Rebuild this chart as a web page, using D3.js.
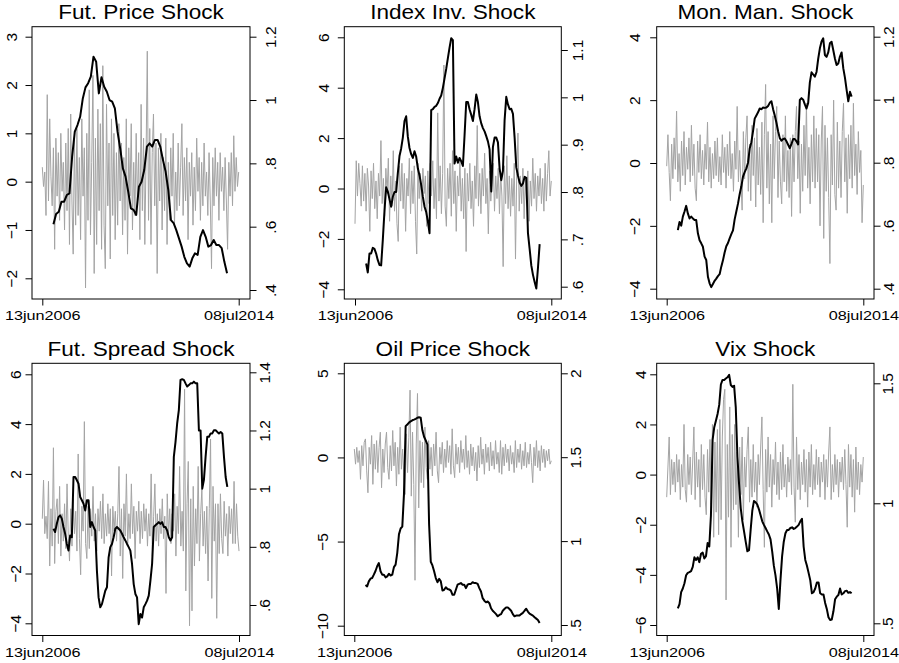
<!DOCTYPE html>
<html><head><meta charset="utf-8">
<script src="https://cdn.jsdelivr.net/npm/d3@7"></script>
<style>body{margin:0;background:#fff} svg{display:block}</style>
</head><body><svg id="c" width="899" height="663"></svg>
<script>
// ---------------- DATA ----------------
const titles = ["Fut. Price Shock","Index Inv. Shock","Mon. Man. Shock","Fut. Spread Shock","Oil Price Shock","Vix Shock"];
const xTickDates = ["2006-06-13","2014-07-08"];
const xTickLabels = ["13jun2006","08jul2014"];
const grayStart = "2006-06-13", grayEnd = "2014-07-08";
const blackStart = "2006-11-27", blackEnd = "2014-01-14";
const leftTicks = [[-2,-1,0,1,2,3],[-4,-2,0,2,4,6],[-4,-2,0,2,4],[-4,-2,0,2,4,6],[-10,-5,0,5],[-6,-4,-2,0,2,4]];
const rightTicks = [[0.4,0.6,0.8,1,1.2],[0.6,0.7,0.8,0.9,1,1.1],[0.4,0.6,0.8,1,1.2],[0.6,0.8,1,1.2,1.4],[0.5,1,1.5,2],[0.5,1,1.5]];

const gray1 = [0.3,-0.1,0.2,-0.7,1.8,-0.4,1.3,0.1,-0.5,0.7,-1.4,0.9,-0.3,0.6,-0.8,1.0,-0.2,0.4,-1.0,0.8,
-0.6,1.1,-1.3,1.4,-0.4,-1.5,0.9,-0.9,1.1,-0.7,0.5,-1.2,1.3,-0.3,0.7,-2.2,1.0,-0.8,1.9,-1.1,
0.4,2.2,-1.9,0.9,-1.3,1.5,-0.6,1.2,-1.4,2.4,-0.9,-1.8,1.6,-0.5,0.8,-1.6,1.3,-0.7,1.0,-1.2,
0.6,-0.9,1.2,-0.4,0.8,-1.1,0.5,-0.8,1.3,-1.5,0.7,-0.3,1.2,-1.0,0.4,-0.7,1.0,-0.5,0.6,-1.2,
1.6,-0.6,0.9,-1.3,0.5,2.7,-0.8,1.1,-1.3,0.6,1.4,-0.5,0.8,-1.9,0.7,-0.4,1.0,-1.0,0.5,-0.6,
0.9,-1.3,0.4,-0.8,0.7,-0.3,1.0,-0.9,0.2,-0.6,0.8,-0.5,0.3,1.2,-0.7,0.5,-0.4,0.7,-1.2,0.4,
-0.3,0.6,-0.9,0.3,-0.6,0.9,-0.2,0.5,-0.8,0.4,-0.5,0.8,-0.3,0.2,-0.7,0.6,-0.4,-1.8,0.5,-0.5,
0.7,-0.3,0.4,-0.8,0.6,-0.2,0.3,-0.6,0.5,-0.4,-1.4,0.4,-0.3,0.6,-0.5,0.95,-0.2,0.5,-0.1,0.2];
const black1 = [0.608,0.640,0.647,0.679,0.679,0.700,0.705,0.821,0.900,0.921,0.947,1.005,1.040,1.053,1.074,1.137,1.121,1.021,1.072,1.042,1.026,1.000,0.995,0.974,0.900,0.847,0.784,0.758,0.711,0.658,0.653,0.637,0.726,0.742,0.779,0.853,0.863,0.853,0.874,0.874,0.853,0.811,0.774,0.716,0.621,0.611,0.589,0.563,0.537,0.505,0.484,0.474,0.500,0.516,0.511,0.568,0.589,0.568,0.537,0.542,0.558,0.542,0.542,0.532,0.489,0.453];

const gray2 = [-1.4,1.1,-0.3,1.0,0.2,-0.7,0.9,-0.5,0.6,-0.9,0.8,0.1,-1.7,0.7,-0.4,1.0,-0.8,0.3,-1.2,0.6,
-0.3,1.9,-0.6,0.4,-1.1,0.8,-0.2,1.2,-1.3,0.5,-0.7,1.5,-0.9,0.3,-1.4,-2.1,0.9,-0.5,1.0,-0.8,
0.6,-1.7,0.4,-0.3,1.2,-1.0,0.7,-0.6,0.9,-1.3,-2.6,1.0,-0.4,0.6,-0.9,0.8,-0.2,0.5,-1.5,0.7,
-0.6,1.0,-0.3,1.1,-0.8,0.4,-1.2,3.0,-0.5,0.9,-1.0,0.6,4.9,-0.7,-1.5,0.8,-0.4,1.0,-1.1,1.5,
-0.6,0.7,-1.7,0.5,-0.3,1.1,-0.9,0.4,-1.2,0.8,-2.5,0.6,-0.5,1.0,-0.8,0.3,-1.5,0.9,-0.4,2.5,
-0.7,0.6,-1.0,0.8,-0.3,1.4,-0.6,0.4,-1.8,0.7,-0.5,0.3,1.0,-0.9,0.5,-0.4,0.8,-1.0,0.6,-0.3,
-3.1,0.9,-0.6,1.3,-0.8,0.5,-1.1,0.4,-0.7,1.0,-2.8,0.6,2.2,-0.9,0.5,-0.6,0.8,-1.2,0.4,-0.5,
0.7,-1.3,0.3,-0.7,1.2,-0.4,0.6,-0.9,0.5,-0.3,0.8,-0.6,0.4,-0.9,1.0,-0.5,0.6,1.5,-0.3,0.3];
const black2 = [0.649,0.63,0.67,0.67,0.682,0.68,0.67,0.656,0.646,0.645,0.699,0.76,0.81,0.801,0.785,0.769,0.79,0.80,0.80,0.84,0.876,0.892,0.915,0.95,0.96,0.917,0.893,0.88,0.872,0.886,0.875,0.85,0.835,0.815,0.79,0.769,0.758,0.738,0.713,0.973,0.975,0.98,0.982,0.988,0.997,1.004,1.02,1.04,1.06,1.083,1.105,1.125,1.121,0.86,0.875,0.862,0.872,0.865,0.855,0.92,0.99,0.99,0.975,0.963,0.95,0.975,1.006,0.99,0.96,0.945,0.935,0.928,0.918,0.907,0.89,0.801,0.895,0.915,0.915,0.905,0.85,0.825,0.845,0.952,1.001,0.985,0.975,0.976,0.965,0.915,0.852,0.835,0.82,0.813,0.818,0.832,0.83,0.713,0.68,0.645,0.625,0.61,0.596,0.64,0.69];

const gray3 = [-0.1,0.9,-0.3,-1.2,0.6,-0.5,0.8,-0.2,1.65,-0.6,0.3,-0.9,0.7,-0.4,1.0,-0.7,0.5,-0.2,0.8,-0.6,
1.2,-0.4,0.6,-0.8,-1.2,0.7,-0.3,0.9,-0.5,0.4,-0.7,0.6,-0.2,1.3,-0.6,0.5,-0.8,0.3,-0.5,0.7,
-0.4,0.8,-0.6,0.2,-0.7,0.9,-0.3,0.5,-0.8,0.6,-0.4,1.0,-0.5,0.3,-0.9,0.7,-0.2,1.8,-0.6,0.4,
-0.6,-1.5,1.0,-0.5,0.8,1.5,-0.9,0.6,-1.2,1.2,-0.4,0.8,-1.4,1.1,-0.7,0.5,-1.0,1.3,-1.9,0.9,
2.5,-0.8,1.0,-1.3,0.6,-1.9,1.5,-0.5,1.0,1.8,-1.1,0.7,-0.6,-1.3,0.9,-0.6,1.5,-0.9,0.4,-1.1,
0.8,-1.7,0.9,-0.6,1.0,1.8,-0.5,0.7,-1.6,0.6,-0.9,1.2,-0.4,1.9,-0.8,0.5,-1.3,0.9,-0.6,1.5,
-0.8,1.1,-0.6,0.9,-2.0,0.7,1.8,-2.4,1.2,-0.9,0.8,-1.1,-3.2,0.9,-0.7,2.0,-1.0,-1.5,1.3,-0.8,
0.7,-1.1,1.0,1.9,-0.6,0.8,-1.6,0.9,-0.5,1.2,-0.8,1.9,-0.4,0.6,-1.0,1.0,-0.3,0.4,-1.9,-0.7];
const black3 = [0.586,0.612,0.60,0.629,0.645,0.663,0.639,0.623,0.629,0.623,0.618,0.618,0.576,0.554,0.544,0.533,0.502,0.491,0.438,0.417,0.405,0.415,0.425,0.432,0.44,0.446,0.47,0.49,0.515,0.535,0.545,0.56,0.573,0.585,0.62,0.645,0.67,0.70,0.725,0.756,0.77,0.782,0.80,0.845,0.865,0.90,0.94,0.95,0.96,0.972,0.97,0.975,0.974,0.975,0.98,0.99,0.995,0.97,0.95,0.927,0.90,0.878,0.87,0.875,0.877,0.868,0.857,0.846,0.86,0.875,0.875,0.868,0.858,0.999,1.005,1.0,0.985,0.972,0.99,1.055,1.087,1.08,1.073,1.088,1.13,1.163,1.185,1.195,1.142,1.136,1.15,1.179,1.184,1.158,1.131,1.11,1.115,1.137,1.15,1.10,1.07,1.031,0.995,1.025,1.01];

const gray4 = [0.2,1.75,-0.4,0.3,-0.6,1.7,-1.7,0.6,-0.9,3.05,-1.6,0.5,1.0,-0.8,1.5,-1.3,0.4,-0.7,0.8,-1.0,
1.6,-0.5,-1.5,0.6,-0.9,1.0,-0.4,0.5,-1.1,2.8,-0.6,-2.05,0.7,-0.3,4.1,-0.8,-1.4,0.7,-1.0,0.6,
-0.5,1.5,-0.7,0.4,-1.1,0.6,-0.3,0.9,-0.6,1.2,-0.8,0.4,-0.5,0.8,-0.4,0.6,-2.1,0.7,-0.3,0.5,
-0.7,0.4,2.3,-1.3,0.6,-2.2,0.8,-0.5,2.0,-0.9,0.4,-0.6,1.6,-0.4,0.7,-1.4,0.5,-0.3,0.9,-0.8,
0.5,-0.6,0.8,-0.3,0.6,-0.9,0.4,-0.5,2.0,-1.3,0.3,1.6,-0.7,0.4,-0.9,0.6,-0.4,1.0,-0.6,0.3,
-2.8,1.2,-0.5,0.6,-0.8,0.4,-0.3,1.2,-1.3,0.7,-0.4,2.3,-0.9,0.5,-1.1,5.4,-2.7,0.8,2.5,-4.1,
1.0,-3.5,1.5,-1.7,0.6,-0.8,2.3,-1.5,0.4,1.4,-0.9,0.5,-1.2,0.7,-2.3,0.6,3.4,-3.0,1.5,-0.7,
0.8,-3.8,0.8,-1.2,1.2,-0.6,-1.2,0.9,-0.5,0.4,-1.3,0.7,-0.4,0.6,-0.8,1.7,-0.8,0.8,-0.5,-1.1];
const black4 = [0.862,0.851,0.879,0.902,0.908,0.897,0.868,0.845,0.81,0.787,0.839,0.833,1.04,1.04,1.029,1.017,0.971,0.96,0.948,0.925,0.96,0.96,0.868,0.885,0.868,0.856,0.718,0.626,0.592,0.603,0.626,0.649,0.661,0.764,0.799,0.81,0.833,0.862,0.868,0.862,0.856,0.845,0.833,0.822,0.81,0.799,0.787,0.741,0.672,0.638,0.626,0.534,0.569,0.557,0.592,0.603,0.615,0.632,0.684,0.741,0.868,0.874,0.879,0.885,0.879,0.885,0.868,0.868,0.856,0.833,0.822,0.833,1.109,1.16,1.224,1.27,1.374,1.376,1.374,1.362,1.351,1.356,1.362,1.362,1.368,1.362,1.362,1.20,1.20,1.0,1.03,1.109,1.178,1.178,1.19,1.19,1.201,1.201,1.195,1.19,1.195,1.19,1.109,1.04,1.006];

const gray5 = [0.5,-0.4,0.6,-0.3,0.4,-1.3,0.7,-0.5,0.9,1.1,-0.8,-2.1,0.6,-0.4,1.3,-1.6,0.8,-0.7,1.0,-0.9,
0.6,1.5,-1.8,0.5,-0.9,0.8,1.5,-0.6,-1.3,0.7,-0.8,1.6,-0.5,0.9,-1.7,0.6,-1.0,1.8,-0.7,0.5,
-1.2,-2.2,1.4,-0.9,1.2,4.0,-2.3,1.5,-1.6,-7.3,0.8,3.8,-3.0,1.0,-1.5,0.9,-1.8,1.8,-0.6,-1.3,
1.0,-0.7,0.6,-1.1,0.8,-0.5,1.5,-0.8,-1.5,0.6,-0.4,0.9,-0.9,0.5,-0.6,1.0,-0.3,0.7,-1.0,1.7,
-0.5,-1.2,0.8,-0.4,0.6,-0.9,1.0,-0.3,0.5,-0.7,1.3,-0.6,0.4,-1.0,0.8,-0.5,0.6,-0.8,0.3,-1.4,
0.7,-0.6,1.2,-0.4,0.5,-1.0,0.8,-0.3,0.6,-0.8,0.9,-0.5,0.4,-0.7,1.0,-0.4,0.3,-0.9,1.0,-1.0,
0.6,-0.5,0.8,-0.3,0.5,-0.8,0.7,-0.4,0.3,-0.9,1.0,-0.6,0.5,-0.3,0.8,-0.7,0.4,-0.5,0.9,-0.6,
0.3,-0.4,0.8,-0.3,-1.5,0.6,-0.5,1.0,-0.6,0.4,-0.8,0.7,-0.3,0.5,-0.6,0.4,-0.2,0.5,-0.4,-0.2];
const black5 = [0.738,0.73,0.76,0.776,0.78,0.80,0.822,0.85,0.869,0.82,0.80,0.80,0.784,0.79,0.805,0.795,0.80,0.845,0.86,0.93,1.04,1.075,1.086,1.28,1.685,1.695,1.706,1.714,1.72,1.724,1.729,1.735,1.738,1.735,1.66,1.622,1.60,1.575,1.1,0.877,0.855,0.82,0.78,0.755,0.775,0.76,0.705,0.71,0.725,0.715,0.712,0.705,0.68,0.68,0.71,0.74,0.745,0.75,0.74,0.74,0.72,0.74,0.745,0.745,0.755,0.75,0.75,0.745,0.72,0.70,0.66,0.645,0.635,0.64,0.63,0.60,0.585,0.575,0.565,0.552,0.56,0.565,0.585,0.595,0.605,0.605,0.595,0.585,0.565,0.552,0.556,0.556,0.556,0.565,0.572,0.585,0.597,0.58,0.568,0.562,0.556,0.546,0.538,0.53,0.512];

const gray6 = [-0.9,0.3,1.5,-0.8,0.6,-0.4,0.5,-0.7,0.8,-0.3,0.6,-1.0,0.4,-0.5,2.0,-0.6,-1.1,0.8,-0.4,0.7,
-0.8,0.5,1.9,-1.0,0.9,-0.5,0.6,-1.3,1.2,-0.6,0.8,-0.9,-1.6,1.0,-0.7,1.4,-1.2,2.0,-2.5,1.3,
-1.5,1.8,-2.4,2.2,-1.8,1.5,3.0,3.4,-5.0,1.2,-1.7,2.7,-2.9,1.6,-1.4,2.0,-1.2,0.9,-2.5,1.1,
-0.8,1.5,-1.8,0.7,-0.5,1.0,1.9,-1.1,0.6,-0.9,1.2,-0.7,0.5,-1.3,0.8,-0.4,1.1,2.3,-0.6,-2.9,
1.0,-0.7,1.5,-0.5,0.8,-1.3,0.6,-0.4,1.3,-0.8,0.5,-1.0,0.9,-0.6,1.2,-0.5,0.4,-0.9,0.7,-0.3,
0.6,-0.8,3.6,-0.5,-1.9,1.5,-0.6,0.8,-1.0,0.5,-0.4,1.0,-0.7,0.6,-1.3,0.9,-0.5,1.2,-0.8,0.4,
-0.6,1.0,-0.4,0.7,-0.9,0.5,-0.3,0.8,-1.0,0.6,-0.5,0.9,1.9,-1.0,0.4,-0.7,0.8,-0.4,0.6,-0.9,
0.5,-0.3,0.7,-0.6,1.0,-0.4,-2.1,1.2,-0.5,0.8,-0.9,0.6,-1.5,1.1,-0.6,0.5,-0.8,0.4,-0.3,0.7];
const black6 = [0.5625,0.58,0.63,0.645,0.667,0.70,0.71,0.713,0.717,0.735,0.775,0.764,0.775,0.755,0.79,0.795,0.77,0.78,0.835,0.82,0.95,1.264,1.317,1.344,1.372,1.41,1.495,1.514,1.514,1.52,1.525,1.535,1.493,1.485,1.49,1.40,1.194,1.08,0.98,0.925,0.883,0.84,0.80,0.805,0.89,0.97,1.01,1.004,0.995,0.975,0.95,0.925,0.91,0.897,0.883,0.87,0.85,0.80,0.74,0.70,0.645,0.56,0.68,0.78,0.84,0.875,0.889,0.889,0.897,0.90,0.893,0.897,0.903,0.91,0.925,0.935,0.82,0.764,0.74,0.71,0.68,0.625,0.63,0.645,0.67,0.67,0.625,0.62,0.62,0.585,0.56,0.525,0.514,0.516,0.55,0.60,0.611,0.618,0.645,0.62,0.625,0.634,0.636,0.627,0.63,0.625];

// ---------------- LAYOUT ----------------
const grays = [gray1,gray2,gray3,gray4,gray5,gray6];
const blacks = [black1,black2,black3,black4,black5,black6];
const layout = [
 {box:[32,250,26.7,299],   xr:[42.3,238.7],  lr:[278.3,36.7], rr:[290,36.7], lo:15.3, ro:26},
 {box:[344.3,561.3,26.7,299], xr:[355,551.3], lr:[289.3,37.3], rr:[286.7,50], lo:15, ro:21.7},
 {box:[656.7,874,26.7,299], xr:[666.7,863.3], lr:[288.7,37.3], rr:[288.7,36.7], lo:16.7, ro:19.5},
 {box:[32,250,363.3,635.5], xr:[42.3,239],   lr:[623.3,374.3], rr:[605,372.3], lo:11.3, ro:19.5},
 {box:[344.3,561.3,363.3,635.5], xr:[354.3,551.3], lr:[625.7,373.3], rr:[625,373.3], lo:16, ro:19.5},
 {box:[656.7,874,363.3,635.5], xr:[666.7,863.3], lr:[625,374.3], rr:[623.3,383.3], lo:10.5, ro:19}
];
const FONT = "'Liberation Sans', Arial, Helvetica, sans-serif";
const svg = d3.select("#c");
svg.append("rect").attr("width",899).attr("height",663).attr("fill","#fff");

function fmt(v){
  let s = String(+v.toFixed(2));
  if (s.startsWith("0.")) s = s.slice(1);
  if (s.startsWith("-0.")) s = "-" + s.slice(2);
  return s.replace("-", "\u2212");
}
function dates(n, a, b){
  const t0 = +new Date(a), t1 = +new Date(b);
  return d3.range(n).map(i => new Date(t0 + i*(t1-t0)/(n-1)));
}

layout.forEach((L, k) => {
  const [x0,x1,y0,y1] = L.box;
  const lt = leftTicks[k], rt = rightTicks[k];
  const x = d3.scaleTime().domain(xTickDates.map(d=>new Date(d))).range(L.xr);
  const yL = d3.scaleLinear().domain([lt[0], lt[lt.length-1]]).range(L.lr);
  const yR = d3.scaleLinear().domain([rt[0], rt[rt.length-1]]).range(L.rr);
  const g = svg.append("g");

  // series
  const gd = dates(grays[k].length, grayStart, grayEnd);
  const bd = dates(blacks[k].length, blackStart, blackEnd);
  g.append("path").datum(grays[k].map((v,i)=>[gd[i],v]))
    .attr("fill","none").attr("stroke","#a4a4a4").attr("stroke-width",1)
    .attr("d", d3.line().x(d=>x(d[0])).y(d=>yL(d[1])));
  g.append("path").datum(blacks[k].map((v,i)=>[bd[i],v]))
    .attr("fill","none").attr("stroke","#000").attr("stroke-width",2)
    .attr("stroke-linejoin","round")
    .attr("d", d3.line().x(d=>x(d[0])).y(d=>yR(d[1])));

  // frame
  g.append("rect").attr("x",x0).attr("y",y0).attr("width",x1-x0).attr("height",y1-y0)
    .attr("fill","none").attr("stroke","#000").attr("stroke-width",1);

  // left axis
  const ga = g.append("g").attr("transform",`translate(${x0},0)`)
    .call(d3.axisLeft(yL).tickValues(lt).tickFormat(fmt).tickSize(6.5).tickPadding(0));
  ga.select(".domain").remove();
  ga.attr("font-family",FONT).attr("font-size",15.5).attr("color","#000");
  ga.selectAll(".tick text").attr("x",0).attr("dy",null).attr("y",-L.lo)
    .attr("transform","rotate(-90)").attr("text-anchor","middle");

  // right axis
  const gr = g.append("g").attr("transform",`translate(${x1},0)`)
    .call(d3.axisRight(yR).tickValues(rt).tickFormat(fmt).tickSize(6.5).tickPadding(0));
  gr.select(".domain").remove();
  gr.attr("font-family",FONT).attr("font-size",15.5).attr("color","#000");
  gr.selectAll(".tick text").attr("x",0).attr("dy",null).attr("y",L.ro)
    .attr("transform","rotate(-90)").attr("text-anchor","middle");

  // bottom axis
  const gb = g.append("g").attr("transform",`translate(0,${y1})`)
    .call(d3.axisBottom(x).tickValues(xTickDates.map(d=>new Date(d)))
      .tickFormat((d,i)=>xTickLabels[i]).tickSize(6.5).tickPadding(0));
  gb.select(".domain").remove();
  gb.attr("font-family",FONT).attr("font-size",13.5).attr("color","#000");
  gb.selectAll(".tick text").attr("y",0).attr("dy",null)
    .attr("transform","translate(0,21) scale(1.2,1)").attr("text-anchor","middle");

  // title
  g.append("text").attr("transform",`translate(${(x0+x1)/2},${y0-7.7}) scale(1.13,1)`)
    .attr("text-anchor","middle").attr("font-family",FONT).attr("font-size",20)
    .attr("fill","#000").text(titles[k]);
});
</script>
</body></html>
